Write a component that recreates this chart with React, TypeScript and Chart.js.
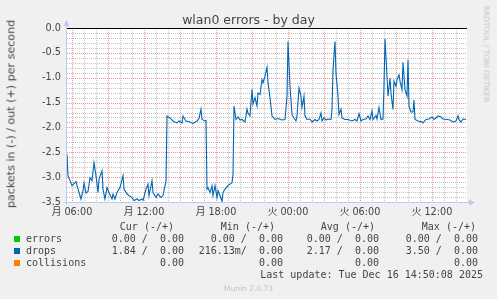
import React, { useEffect, useRef } from "react";
import { Chart, registerables } from "chart.js";

Chart.register(...registerables);

// time in minutes since Monday 00:00 (5-minute samples)
const times = [
  335, 340, 360, 365, 380, 390, 405, 415, 420, 430, 440, 450, 460, 470, 480, 490, 495, 510, 515, 525,
  535, 545, 560, 565, 575, 585, 600, 615, 620, 635, 645, 660, 670, 685, 695, 710, 715, 730, 740, 745,
  760, 765, 780, 790, 805, 815, 825, 830, 835, 850, 865, 885, 895, 910, 915, 930, 950, 965, 985, 995,
  1005, 1010, 1025, 1030, 1035, 1040, 1050, 1060, 1065, 1075, 1085, 1090, 1100, 1110, 1115, 1125, 1140, 1150, 1160, 1165,
  1170, 1180, 1190, 1200, 1210, 1225, 1235, 1240, 1250, 1260, 1265, 1275, 1285, 1290, 1300, 1310, 1315, 1325, 1335, 1340,
  1350, 1360, 1375, 1390, 1410, 1425, 1435, 1440, 1450, 1460, 1470, 1480, 1485, 1495, 1505, 1510, 1520, 1525, 1535, 1550,
  1560, 1575, 1585, 1595, 1605, 1610, 1620, 1630, 1640, 1655, 1660, 1665, 1675, 1680, 1690, 1695, 1705, 1710, 1725, 1740,
  1760, 1775, 1785, 1795, 1805, 1815, 1830, 1840, 1850, 1860, 1865, 1880, 1885, 1895, 1905, 1915, 1920, 1925, 1935, 1940,
  1950, 1955, 1965, 1970, 1980, 1985, 1995, 2000, 2010, 2015, 2025, 2035, 2040, 2045, 2055, 2065, 2070, 2075, 2090, 2110,
  2115, 2130, 2145, 2160, 2170, 2180, 2190, 2205, 2215, 2235, 2250, 2265, 2280, 2290, 2295, 2305, 2315, 2330,
];

// drops "in" (packets/s), drawn negative
const dropsIn = [
  2.54, 2.97, 3.17, 3.15, 3.09, 3.24, 3.44, 3.27, 3.12, 3.32, 3.29, 3.01, 3.07, 2.71, 2.97, 3.31, 3.04, 2.87, 3.24, 3.44,
  3.21, 3.31, 3.44, 3.34, 3.44, 3.31, 3.21, 2.97, 3.24, 3.34, 3.37, 3.41, 3.47, 3.44, 3.47, 3.44, 3.47, 3.24, 3.14, 3.37,
  3.07, 3.31, 3.41, 3.34, 3.41, 3.37, 3.17, 3.10, 1.77, 1.81, 1.87, 1.91, 1.87, 1.91, 1.77, 1.87, 1.89, 1.92, 1.87, 1.82,
  1.63, 1.84, 1.87, 1.86, 3.24, 3.21, 3.31, 3.17, 3.37, 3.17, 3.41, 3.27, 3.37, 3.49, 3.31, 3.24, 3.17, 3.14, 3.11, 2.95,
  1.57, 1.84, 1.79, 1.85, 1.84, 1.89, 1.63, 1.71, 1.77, 1.24, 1.53, 1.40, 1.57, 1.31, 1.34, 1.04, 1.10, 0.97, 0.79, 1.10,
  1.40, 1.77, 1.84, 1.82, 1.85, 1.84, 1.37, 0.27, 1.17, 1.74, 1.81, 1.87, 1.77, 1.21, 1.37, 1.60, 1.37, 1.77, 1.84, 1.83,
  1.89, 1.84, 1.87, 1.84, 1.71, 1.87, 1.81, 1.85, 1.83, 1.84, 1.64, 0.84, 0.27, 0.91, 1.37, 1.74, 1.63, 1.81, 1.84, 1.84,
  1.87, 1.84, 1.87, 1.72, 1.87, 1.84, 1.83, 1.77, 1.84, 1.67, 1.84, 1.76, 1.83, 1.60, 1.84, 1.83, 1.17, 0.22, 0.97, 1.37,
  1.01, 1.31, 1.64, 1.07, 1.17, 1.04, 0.94, 1.07, 1.24, 0.69, 1.24, 1.37, 0.64, 1.57, 1.69, 1.69, 1.45, 1.84, 1.87, 1.89,
  1.91, 1.84, 1.83, 1.79, 1.84, 1.81, 1.77, 1.79, 1.83, 1.84, 1.85, 1.89, 1.87, 1.77, 1.84, 1.89, 1.83, 1.84,
];

const xTickValues = [360, 720, 1080, 1440, 1800, 2160];
const xTickLabels = ["月 06:00", "月 12:00", "月 18:00", "火 00:00", "火 06:00", "火 12:00"];
const yTickValues = [0, -0.5, -1, -1.5, -2, -2.5, -3, -3.5];
const yTickLabels = ["0.0", "-0.5", "-1.0", "-1.5", "-2.0", "-2.5", "-3.0", "-3.5"];

const legendNames = ["errors", "drops", "collisions"];
const legendColors = ["#00CC00", "#0066B3", "#FF8000"];
const curValues = ["0.00 /  0.00", "1.84 /  0.00", "0.00"];
const minValues = ["0.00 /  0.00", "216.13m/  0.00", "0.00"];
const avgValues = ["0.00 /  0.00", "2.17 /  0.00", "0.00"];
const maxValues = ["0.00 /  0.00", "3.50 /  0.00", "0.00"];
const columnHeaders = ["Cur (-/+)", "Min (-/+)", "Avg (-/+)", "Max (-/+)"];

const titleText = "wlan0 errors - by day";
const unitText = "packets in (-) / out (+) per second";
const lastUpdate = "Last update: Tue Dec 16 14:50:08 2025";
const muninVersion = "Munin 2.0.73";
const watermark = "RRDTOOL / TOBI OETIKER";

const X_MIN = 335;
const X_MAX = 2335;
const Y_MIN = -3.5;
const Y_MAX = 0;

const SANS = "'DejaVu Sans', 'Noto Sans CJK JP', sans-serif";
const MONO = "'DejaVu Sans Mono', monospace";
const FONT_COLOR = "#444444";
const AXIS_COLOR = "rgb(190,200,245)";
const MAJOR_GRID = "#E89A9A";
const MINOR_GRID = "#C4C4C4";

const hourTicks: number[] = [];
for (let m = 360; m < X_MAX; m += 60) hourTicks.push(m);
const tenthTicks: number[] = [];
for (let i = 0; i <= 35; i++) tenthTicks.push(Number((-i / 10).toFixed(1)));

const isHalf = (v: number) => Math.abs(v * 2 - Math.round(v * 2)) < 1e-6;

export default function App() {
  const ref = useRef<HTMLCanvasElement | null>(null);

  useEffect(() => {
    document.body.style.margin = "0";
    const canvas = ref.current;
    if (!canvas) return;

    const plotPlugin = {
      id: "munin",
      beforeDraw(chart: any) {
        const { ctx, chartArea } = chart;
        ctx.save();
        ctx.fillStyle = "#FFFFFF";
        ctx.fillRect(chartArea.left, chartArea.top, chartArea.right - chartArea.left, chartArea.bottom - chartArea.top);
        ctx.restore();
      },
      beforeDatasetsDraw(chart: any) {
        const { ctx, chartArea, scales } = chart;
        const top = Math.round(chartArea.top);
        const bottom = Math.round(chartArea.bottom);
        const left = Math.round(chartArea.left);
        const right = Math.round(chartArea.right);
        ctx.save();
        ctx.lineWidth = 1;
        ctx.setLineDash([1, 1]);
        const drawH = (v: number) => {
          const y = Math.round(scales.y.getPixelForValue(v)) + 0.5;
          ctx.beginPath();
          ctx.moveTo(left, y);
          ctx.lineTo(right, y);
          ctx.stroke();
        };
        const drawV = (m: number) => {
          const x = Math.round(scales.x.getPixelForValue(m)) + 0.5;
          ctx.beginPath();
          ctx.moveTo(x, top);
          ctx.lineTo(x, bottom);
          ctx.stroke();
        };
        ctx.strokeStyle = MINOR_GRID;
        tenthTicks.filter((v) => !isHalf(v)).forEach(drawH);
        hourTicks.filter((m) => m % 180 !== 0).forEach(drawV);
        ctx.strokeStyle = MAJOR_GRID;
        tenthTicks.filter((v) => isHalf(v)).forEach(drawH);
        hourTicks.filter((m) => m % 180 === 0).forEach(drawV);
        ctx.restore();
      },
      afterDatasetsDraw(chart: any) {
        const { ctx, chartArea, scales } = chart;
        const y0 = Math.round(scales.y.getPixelForValue(0)) + 0.5;
        const yb = Math.round(scales.y.getPixelForValue(Y_MIN)) + 0.5;
        const xl = Math.round(scales.x.getPixelForValue(X_MIN)) - 0.5;
        ctx.save();
        ctx.strokeStyle = "#000000";
        ctx.lineWidth = 1;
        ctx.beginPath();
        ctx.moveTo(chartArea.left, y0);
        ctx.lineTo(chartArea.right, y0);
        ctx.stroke();
        ctx.strokeStyle = AXIS_COLOR;
        ctx.beginPath();
        ctx.moveTo(xl, yb + 2);
        ctx.lineTo(xl, chartArea.top - 2);
        ctx.moveTo(xl - 3, yb);
        ctx.lineTo(chartArea.right + 2, yb);
        ctx.stroke();
        ctx.fillStyle = AXIS_COLOR;
        ctx.beginPath();
        ctx.moveTo(xl, chartArea.top - 8);
        ctx.lineTo(xl - 3, chartArea.top - 2);
        ctx.lineTo(xl + 3, chartArea.top - 2);
        ctx.closePath();
        ctx.fill();
        ctx.beginPath();
        ctx.moveTo(chartArea.right + 8, yb);
        ctx.lineTo(chartArea.right + 2, yb - 3);
        ctx.lineTo(chartArea.right + 2, yb + 3);
        ctx.closePath();
        ctx.fill();
        ctx.restore();
      },
    };

    const chart = new Chart(canvas, {
      type: "line",
      data: {
        datasets: [
          {
            label: "drops",
            data: times.map((t, i) => ({ x: t, y: -dropsIn[i] })),
            borderColor: "#0066B3",
            borderWidth: 1.1,
            pointRadius: 0,
            tension: 0,
            fill: false,
          },
        ],
      },
      options: {
        animation: false,
        responsive: false,
        maintainAspectRatio: false,
        devicePixelRatio: 1,
        layout: { padding: { top: 28, right: 30, left: 0, bottom: 0 } },
        plugins: { legend: { display: false }, tooltip: { enabled: false }, title: { display: false } },
        scales: {
          x: {
            type: "linear",
            min: X_MIN,
            max: X_MAX,
            afterBuildTicks: (s: any) => {
              s.ticks = hourTicks.map((v) => ({ value: v }));
            },
            afterFit: (s: any) => {
              s.height = 97;
            },
            grid: { display: false, drawTicks: false },
            border: { display: false },
            ticks: {
              autoSkip: false,
              maxRotation: 0,
              padding: 5,
              color: FONT_COLOR,
              font: { family: SANS, size: 9.7 },
              callback: (v: any) => {
                const i = xTickValues.indexOf(Number(v));
                return i >= 0 ? xTickLabels[i] : "";
              },
            },
          },
          y: {
            type: "linear",
            min: Y_MIN,
            max: Y_MAX,
            afterBuildTicks: (s: any) => {
              s.ticks = tenthTicks.map((v) => ({ value: v }));
            },
            afterFit: (s: any) => {
              s.width = 67;
            },
            grid: { display: false, drawTicks: false },
            border: { display: false },
            ticks: {
              autoSkip: false,
              padding: 6,
              color: FONT_COLOR,
              font: { family: SANS, size: 9.7 },
              callback: (v: any) => {
                const i = yTickValues.findIndex((t) => Math.abs(t - Number(v)) < 1e-6);
                return i >= 0 ? yTickLabels[i] : "";
              },
            },
          },
        },
      },
      plugins: [plotPlugin],
    } as any);

    return () => chart.destroy();
  }, []);

  const abs = (extra: React.CSSProperties): React.CSSProperties => ({
    position: "absolute",
    whiteSpace: "pre",
    margin: 0,
    ...extra,
  });

  const rowTops = [233, 245, 257];
  const headerRights = [174, 275, 375, 476];
  const valueRights = [184, 283, 379, 478];
  const valueCols = [curValues, minValues, avgValues, maxValues];
  const mono: React.CSSProperties = { fontFamily: MONO, fontSize: 10, lineHeight: "12px", color: FONT_COLOR };

  return (
    <div style={{ position: "relative", width: 497, height: 299, background: "#F0F0F0", overflow: "hidden" }}>
      <canvas ref={ref} width={497} height={299} style={{ position: "absolute", left: 0, top: 0, width: 497, height: 299 }} />
      <div
        style={abs({
          left: 0,
          top: 13.5,
          width: 497,
          textAlign: "center",
          fontFamily: SANS,
          fontSize: 12.5,
          lineHeight: "12.5px",
          color: FONT_COLOR,
        })}
      >
        {titleText}
      </div>
      <div
        style={abs({
          left: 10.5,
          top: 114,
          transform: "translate(-50%, -50%) rotate(-90deg)",
          fontFamily: SANS,
          fontSize: 11.1,
          lineHeight: "11.1px",
          color: FONT_COLOR,
        })}
      >
        {unitText}
      </div>
      <div
        style={abs({
          left: 486,
          top: 53.5,
          transform: "translate(-50%, -50%) rotate(90deg)",
          fontFamily: SANS,
          fontSize: 7.5,
          lineHeight: "7.5px",
          color: "#C4C4C4",
        })}
      >
        {watermark}
      </div>
      {columnHeaders.map((h, i) => (
        <div key={"h" + i} style={abs({ ...mono, top: 221, right: 497 - headerRights[i] })}>
          {h}
        </div>
      ))}
      {legendNames.map((name, r) => (
        <React.Fragment key={name}>
          <div style={abs({ left: 14, top: rowTops[r] + 3, width: 6, height: 6, background: legendColors[r] })} />
          <div style={abs({ ...mono, left: 26, top: rowTops[r] })}>{name}</div>
          {valueCols.map((col, c) => (
            <div key={c} style={abs({ ...mono, top: rowTops[r], right: 497 - valueRights[c] })}>
              {col[r]}
            </div>
          ))}
        </React.Fragment>
      ))}
      <div style={abs({ ...mono, top: 269, right: 497 - 483 })}>{lastUpdate}</div>
      <div
        style={abs({
          left: 0,
          width: 497,
          top: 283.5,
          textAlign: "center",
          fontFamily: SANS,
          fontSize: 7.5,
          lineHeight: "9px",
          color: "#C4C4C4",
        })}
      >
        {muninVersion}
      </div>
    </div>
  );
}
